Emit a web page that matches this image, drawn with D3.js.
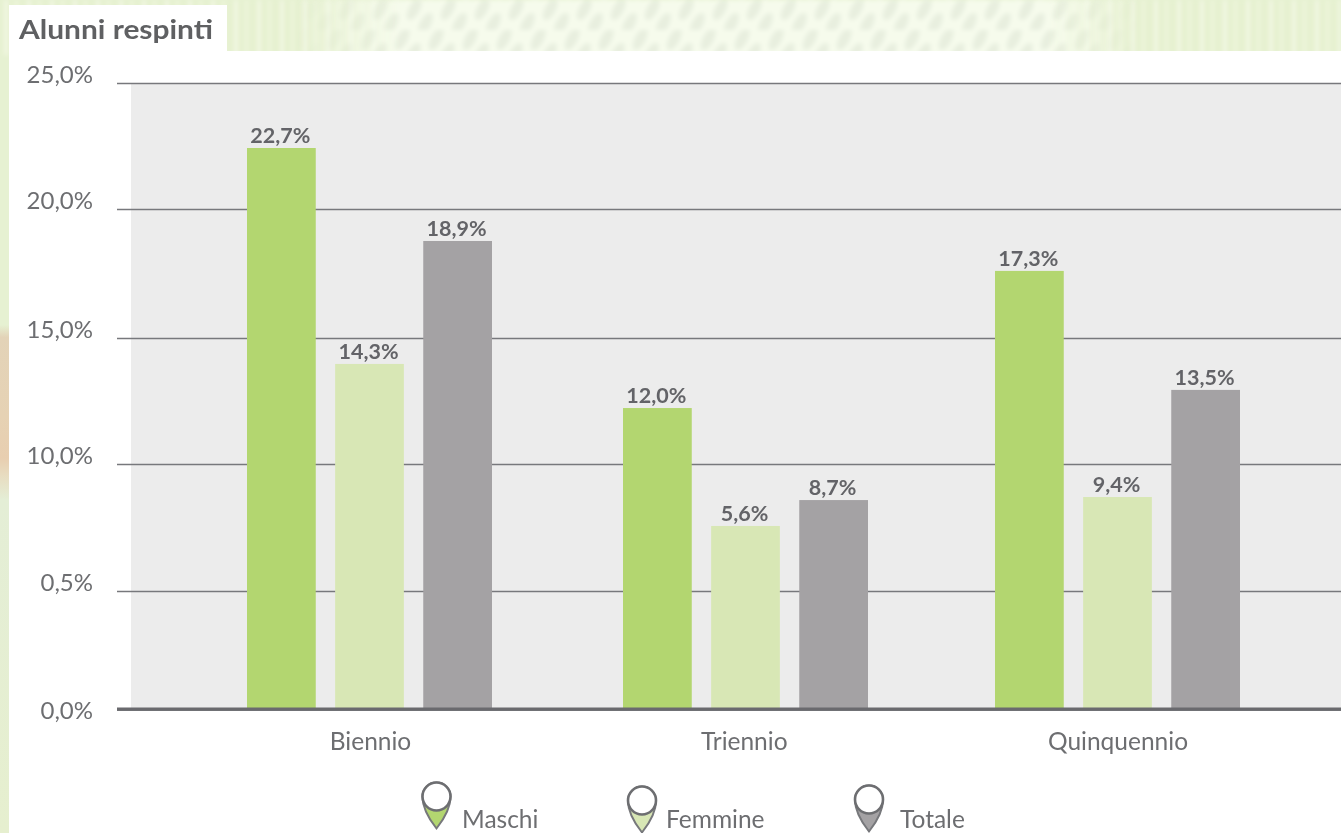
<!DOCTYPE html>
<html><head><meta charset="utf-8">
<script src="https://cdn.jsdelivr.net/npm/d3@7/dist/d3.min.js"></script>
<style>html,body{margin:0;padding:0;background:#fff;overflow:hidden}svg{display:block}
text{font-family:Lato,"Open Sans",sans-serif;fill:#6d6e71}</style></head><body>
<svg id="c" width="1341" height="833"></svg>
<script>
const title = "Alunni respinti";
const categories = ["Biennio", "Triennio", "Quinquennio"];
const seriesNames = ["Maschi", "Femmine", "Totale"];
const seriesColors = ["#b3d66f", "#d8e7b5", "#a4a2a4"];
const tickValues = [0, 5, 10, 15, 20, 25];
const tickLabels = ["0,0%", "0,5%", "10,0%", "15,0%", "20,0%", "25,0%"];
// bar heights as drawn in the picture
const maschiBars = [22.42, 12.22, 17.6];
const femmineBars = [13.97, 7.56, 8.7];
const totaleBars = [18.76, 8.58, 12.94];
// printed value labels (differ slightly from the drawn heights in the source)
const maschiLabels = ["22,7%", "12,0%", "17,3%"];
const femmineLabels = ["14,3%", "5,6%", "9,4%"];
const totaleLabels = ["18,9%", "8,7%", "13,5%"];
const barSeries = [maschiBars, femmineBars, totaleBars];
const labelSeries = [maschiLabels, femmineLabels, totaleLabels];

const svg = d3.select("#c");
const defs = svg.append("defs");
const grad = defs.append("linearGradient").attr("id", "strip").attr("x1", 0).attr("x2", 0).attr("y1", 0).attr("y2", 1);
[[0, "#e6f1d2"], [0.39, "#e6f1d2"], [0.405, "#e3d3b8"], [0.5, "#e6d2b4"], [0.55, "#e8ceb0"], [0.57, "#e8dcc0"], [0.6, "#e4eed6"], [1, "#e6efcf"]]
  .forEach(d => grad.append("stop").attr("offset", d[0]).attr("stop-color", d[1]));
const hatch = defs.append("pattern").attr("id", "hatch").attr("width", 34).attr("height", 30)
  .attr("patternUnits", "userSpaceOnUse").attr("patternTransform", "skewX(-22)");
hatch.append("rect").attr("width", 34).attr("height", 30).attr("fill", "#f6fbec");
hatch.append("ellipse").attr("cx", 10).attr("cy", 9).attr("rx", 6).attr("ry", 11).attr("fill", "#e8efdf");
hatch.append("ellipse").attr("cx", 27).attr("cy", 24).attr("rx", 6).attr("ry", 11).attr("fill", "#e8efdf");
const tex = defs.append("pattern").attr("id", "tex").attr("width", 23).attr("height", 40).attr("patternUnits", "userSpaceOnUse");
tex.append("rect").attr("width", 23).attr("height", 40).attr("fill", "#e6f1d0");
tex.append("rect").attr("x", 4).attr("width", 4).attr("height", 40).attr("fill", "#f1f7e2");
tex.append("rect").attr("x", 15).attr("width", 3).attr("height", 40).attr("fill", "#eef6dc");
defs.append("filter").attr("id", "soft").append("feGaussianBlur").attr("stdDeviation", 0.5);
const bandFilter = defs.append("filter").attr("id", "softer");
bandFilter.append("feGaussianBlur").attr("stdDeviation", 2);
const fade = defs.append("linearGradient").attr("id", "fade");
[[0, 0], [0.22, 0], [0.3, 1], [0.78, 1], [0.85, 0], [1, 0]].forEach(d => fade.append("stop").attr("offset", d[0]).attr("stop-color", "#fff").attr("stop-opacity", d[1]));
const mask = defs.append("mask").attr("id", "fadeMask").attr("maskUnits", "userSpaceOnUse").attr("x", 0).attr("y", 0).attr("width", 1341).attr("height", 60);
mask.append("rect").attr("width", 1341).attr("height", 60).attr("fill", "url(#fade)");

const bg = svg.append("g");
bg.append("rect").attr("width", 1341).attr("height", 833).attr("fill", "url(#strip)");
const topBand = bg.append("g");
topBand.append("rect").attr("width", 1341).attr("height", 55).attr("fill", "url(#tex)").attr("filter", "url(#softer)");
topBand.append("g").attr("mask", "url(#fadeMask)").append("rect").attr("width", 1341).attr("height", 55).attr("fill", "url(#hatch)").attr("filter", "url(#softer)");

const root = svg.append("g").attr("filter", "url(#soft)");
root.append("rect").attr("x", 9).attr("y", 51).attr("width", 1332).attr("height", 782).attr("fill", "#fff");
root.append("rect").attr("x", 9).attr("y", 5).attr("width", 218).attr("height", 46).attr("fill", "#fff");
root.append("text").attr("x", 19).attr("y", 39).attr("font-size", 26).attr("font-weight", 700)
  .attr("textLength", 194).attr("lengthAdjust", "spacingAndGlyphs").style("fill", "#5f6062").text(title);

// Gridlines in the picture are not perfectly evenly spaced
const y = d3.scaleLinear().domain(tickValues).range([709, 591, 464, 338, 209, 83]);
const x0 = d3.scaleOrdinal().domain(categories).range([247, 623, 995]);
const x1 = d3.scaleBand().domain(seriesNames).range([0, 245]).paddingInner(0.22).paddingOuter(0);

root.append("rect").attr("x", 131).attr("y", y(25)).attr("width", 1210).attr("height", y(0) - y(25)).attr("fill", "#ececec");

const yAxis = root.append("g").call(d3.axisLeft(y).tickValues(tickValues).tickSize(0).tickPadding(0).tickFormat((d, i) => tickLabels[i]));
yAxis.select(".domain").remove();
yAxis.selectAll(".tick line").attr("x1", 117).attr("x2", 1341)
  .attr("stroke", "#77787b").attr("stroke-width", d => d === 0 ? 3 : 1.7);
yAxis.selectAll(".tick text").attr("x", 93).attr("dy", "0.32em").attr("y", d => d === 0 ? 2 : -8.5).attr("font-size", 24)
  .attr("text-anchor", "end").style("font-family", 'Lato,"Open Sans",sans-serif');

const groups = root.selectAll(".grp").data(categories).join("g").attr("transform", c => `translate(${x0(c)},0)`);
seriesNames.forEach((s, si) => {
  groups.append("rect").attr("x", x1(s)).attr("width", x1.bandwidth())
    .attr("y", (c, i) => y(barSeries[si][i]))
    .attr("height", (c, i) => y(0) - y(barSeries[si][i]) - 1)
    .attr("fill", seriesColors[si]);
  groups.append("text").attr("x", x1(s) + x1.bandwidth() / 2 - 1)
    .attr("y", (c, i) => y(barSeries[si][i]) - 5)
    .attr("text-anchor", "middle").attr("font-size", 21.5).attr("font-weight", 700)
    .style("fill", "#636467").text((c, i) => labelSeries[si][i]);
});
root.append("line").attr("x1", 117).attr("x2", 1341).attr("y1", y(0)).attr("y2", y(0)).attr("stroke", "#6a6b6e").attr("stroke-width", 3);

const xAxis = root.append("g").attr("transform", `translate(0,${y(0)})`)
  .call(d3.axisBottom(d3.scalePoint().domain(categories).range([370, 1117.5])).tickSize(0).tickPadding(0));
xAxis.select(".domain").remove();
xAxis.selectAll("text").attr("y", 41).attr("dy", null).attr("font-size", 24.5).style("font-family", 'Lato,"Open Sans",sans-serif');

// Legend
const legendAnchor = [436.5, 642, 869];
const legendTop = [796.5, 800.5, 799.5];
const legendTextX = [462, 666, 900];
const r = 14;
const leg = root.selectAll(".leg").data(seriesNames).join("g").attr("transform", (d, i) => `translate(${legendAnchor[i]},${legendTop[i]})`);
const pin = `M${-r},0 A${r},${r} 0 1 1 ${r},0 C${r},12 8,22 0,${r + 18} C-8,22 ${-r},12 ${-r},0 Z`;
leg.append("path").attr("d", pin).attr("fill", (d, i) => seriesColors[i]).attr("stroke", "#77787b").attr("stroke-width", 2);
leg.append("circle").attr("r", r).attr("fill", "#fff").attr("stroke", "#6d6e71").attr("stroke-width", 2.6);
root.selectAll(".legt").data(seriesNames).join("text").attr("x", (d, i) => legendTextX[i]).attr("y", 828).attr("font-size", 24.5).text(d => d);
</script></body></html>
